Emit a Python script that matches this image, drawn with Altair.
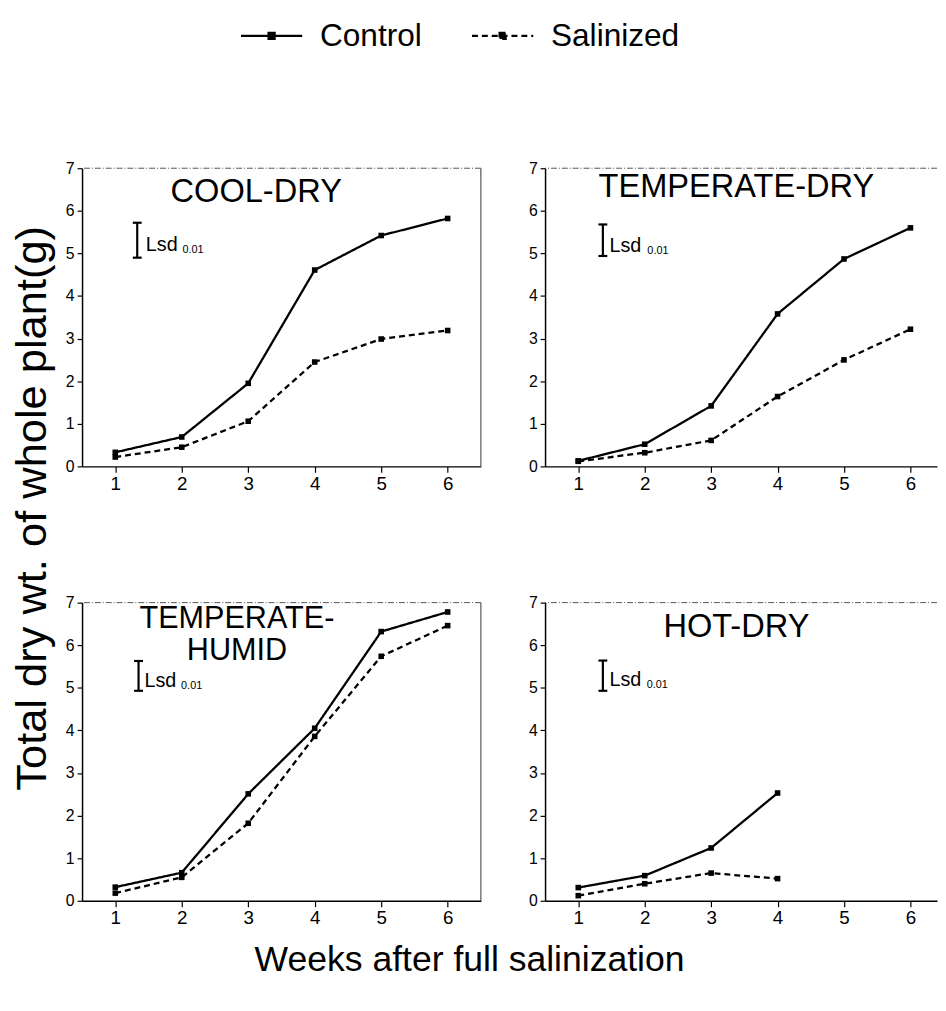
import altair as alt
import pandas as pd

FONT = "Liberation Sans"

# ---------------- data ----------------
weeks = [1, 2, 3, 4, 5, 6]
series_names = ["Control", "Salinized"]
y_ticks = [0, 1, 2, 3, 4, 5, 6, 7]

cool_dry_control = [0.33, 0.69, 1.95, 4.61, 5.42, 5.82]
cool_dry_salinized = [0.22, 0.45, 1.06, 2.45, 2.99, 3.19]

temperate_dry_control = [0.13, 0.52, 1.42, 3.58, 4.87, 5.60]
temperate_dry_salinized = [0.12, 0.32, 0.61, 1.64, 2.50, 3.22]

temperate_humid_control = [0.32, 0.66, 2.51, 4.05, 6.32, 6.78]
temperate_humid_salinized = [0.18, 0.55, 1.82, 3.86, 5.74, 6.46]

hot_dry_control = [0.31, 0.59, 1.24, 2.53]
hot_dry_salinized = [0.12, 0.40, 0.65, 0.52]

panel_labels = ["COOL-DRY", "TEMPERATE-DRY", "TEMPERATE-\nHUMID", "HOT-DRY"]
lsd_low = [4.90, 4.94, 4.93, 4.93]
lsd_high = [5.72, 5.68, 5.63, 5.64]
lsd_label = "Lsd"
lsd_sub = "0.01"

y_title = "Total dry wt. of whole plant(g)"
x_title = "Weeks after full salinization"

# ---------------- layout (positions / sizes) ----------------
LEFT_W, RIGHT_W, H = 404, 397, 302
layout = [
    dict(w=LEFT_W, xmax=6.5, border=True, tx=3.12, ty=6.45, fs=33, lx=1.33, sx=1.46, sy=5.06, bx=2.01),
    dict(w=RIGHT_W, xmax=6.4, border=False, tx=3.38, ty=6.55, fs=33, lx=1.37, sx=1.47, sy=5.04, bx=2.04),
    dict(w=LEFT_W, xmax=6.5, border=True, tx=2.83, ty=6.62, fs=31, lx=1.35, sx=1.44, sy=5.01, bx=1.99),
    dict(w=RIGHT_W, xmax=6.4, border=False, tx=3.38, ty=6.43, fs=33, lx=1.37, sx=1.47, sy=5.04, bx=2.03),
]

legend = alt.Legend(
    orient="none", legendX=175, legendY=-151, direction="horizontal", title=None,
    labelFontSize=32, labelFont=FONT, labelColor="black", labelOffset=32,
    columnPadding=45,
    symbolType="M-2,0L2,0M-0.2,-0.2L0.2,-0.2L0.2,0.2L-0.2,0.2Z",
    symbolSize=961, symbolStrokeWidth=2.2, symbolStrokeColor="black",
    symbolFillColor="black", symbolOpacity=1,
)
dash_scale = alt.Scale(domain=series_names, range=[[1, 0], [6, 4]])


def panel(i, ctrl, sal, xaxis, yaxis):
    lay = layout[i]
    n = len(ctrl)
    df = pd.DataFrame({
        "week": weeks[:n] * 2,
        "value": ctrl + sal,
        "series": [series_names[0]] * n + [series_names[1]] * n,
    })
    xs = alt.Scale(domain=[0.5, lay["xmax"]], nice=False, zero=False)
    ys = alt.Scale(domain=[0, 7], nice=False, zero=True)

    lines = alt.Chart(df).mark_line(color="black", strokeWidth=2.3).encode(
        x=alt.X("week:Q", scale=xs, axis=xaxis),
        y=alt.Y("value:Q", scale=ys, axis=yaxis),
        strokeDash=alt.StrokeDash("series:N", scale=dash_scale, legend=legend),
        detail="series:N",
    )
    pts = alt.Chart(df).mark_square(color="black", size=32, opacity=1).encode(
        x="week:Q", y="value:Q", detail="series:N"
    )

    tdf = pd.DataFrame({"week": [lay["tx"]], "value": [lay["ty"]], "t": [panel_labels[i]]})
    title = alt.Chart(tdf).mark_text(
        font=FONT, fontSize=lay["fs"], color="black", align="center", baseline="middle",
        lineBreak="\n", lineHeight=33,
    ).encode(x="week:Q", y="value:Q", text="t:N")

    ldf = pd.DataFrame({"week": [lay["lx"]], "value": [lsd_low[i]], "value2": [lsd_high[i]]})
    bar = alt.Chart(ldf).mark_rule(color="black", strokeWidth=2.2).encode(
        x="week:Q", y="value:Q", y2="value2:Q"
    )
    cdf = pd.DataFrame({"week": [lay["lx"]] * 2, "value": [lsd_low[i], lsd_high[i]]})
    caps = alt.Chart(cdf).mark_tick(
        orient="horizontal", color="black", size=9, thickness=2.2, opacity=1
    ).encode(x="week:Q", y="value:Q")

    sdf = pd.DataFrame({"week": [lay["sx"]], "value": [lay["sy"]], "t": [lsd_label]})
    lsd_t = alt.Chart(sdf).mark_text(
        font=FONT, fontSize=20, color="black", align="left", baseline="alphabetic"
    ).encode(x="week:Q", y="value:Q", text="t:N")
    bdf = pd.DataFrame({"week": [lay["bx"]], "value": [lay["sy"]], "t": [lsd_sub]})
    sub_t = alt.Chart(bdf).mark_text(
        font=FONT, fontSize=11, color="black", align="left", baseline="alphabetic", dy=2
    ).encode(x="week:Q", y="value:Q", text="t:N")

    topdf = pd.DataFrame({"value": [7]})
    top = alt.Chart(topdf).mark_rule(color="#555", strokeWidth=1, strokeDash=[6, 2, 1, 2]).encode(
        y="value:Q"
    )
    layers = [lines, pts, title, bar, caps, lsd_t, sub_t, top]
    if lay["border"]:
        rdf = pd.DataFrame({"week": [lay["xmax"]]})
        layers.append(alt.Chart(rdf).mark_rule(color="#333", strokeWidth=1).encode(x="week:Q"))

    return alt.layer(*layers).properties(width=lay["w"], height=H)


def xax(title=None, **kw):
    return alt.Axis(values=weeks, format="d", title=title, **kw)


def yax(title=None, **kw):
    return alt.Axis(values=y_ticks, format="d", title=title, **kw)


p1 = panel(0, cool_dry_control, cool_dry_salinized, xax(),
           yax(y_title, titleFontSize=44, titleFont=FONT, titleFontWeight="normal",
               titleColor="black", titleAngle=270, titleX=-50, titleY=344,
               titleAlign="center", titleBaseline="middle"))
p2 = panel(1, temperate_dry_control, temperate_dry_salinized, xax(), yax())
p3 = panel(2, temperate_humid_control, temperate_humid_salinized,
           xax(x_title, titleFontSize=36, titleFont=FONT, titleFontWeight="normal",
               titleColor="black", titleX=392, titleY=60,
               titleAlign="center", titleBaseline="middle"),
           yax())
p4 = panel(3, hot_dry_control, hot_dry_salinized, xax(), yax())

chart = alt.concat(
    p1, p2, p3, p4, columns=2, spacing={"row": 138, "column": 65}, bounds="flush"
).resolve_scale(strokeDash="shared").properties(
    padding={"left": 2, "top": 5, "right": 0, "bottom": 0}
).configure(font=FONT).configure_view(stroke=None).configure_axis(
    domainColor="black", tickColor="black", labelColor="black", grid=False,
    domainWidth=1.5, tickWidth=1.2, labelFont=FONT,
).configure_axisX(labelFontSize=19, tickSize=6, labelPadding=2).configure_axisY(
    labelFontSize=16, tickSize=5, labelPadding=3
)

chart.save("out.html", embed_options={"renderer": "svg", "actions": False})
